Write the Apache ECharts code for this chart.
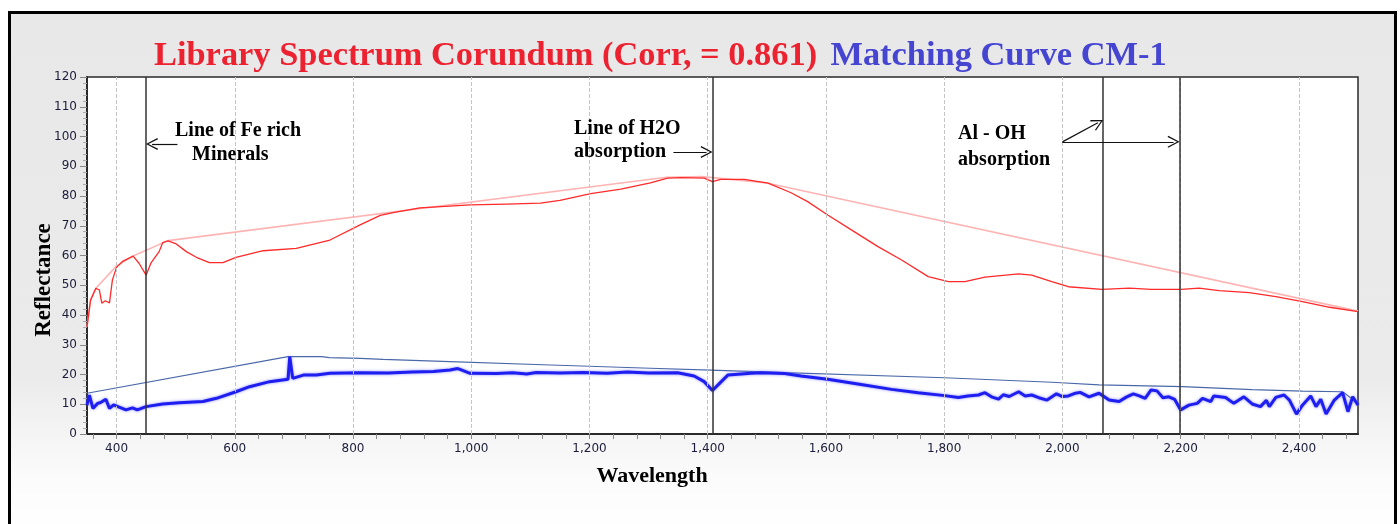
<!DOCTYPE html>
<html>
<head>
<meta charset="utf-8">
<title>Library Spectrum Corundum</title>
<script src="https://cdn.jsdelivr.net/npm/echarts@6/dist/echarts.min.js"></script>
</head>
<body style="margin:0;background:#fff">
<div id="main" style="width:1400px;height:524px;"></div>
<script>
// library spectrum (red) and its hull
var redWave = [350,356,365,371,375,381,388,393,400,410,428,438,450,458,472,478,487,501,518,535,557,580,602,648,704,761,812,846,870,913,998,1060,1117,1150,1202,1253,1303,1332,1355,1394,1408,1422,1462,1502,1541,1569,1603,1643,1688,1728,1773,1807,1835,1869,1926,1948,1982,2010,2067,2113,2150,2201,2231,2265,2316,2361,2406,2452,2500];
var redRefl = [36,45,49,48.4,44,44.8,44.1,51.8,56,58,59.8,57.4,53.4,57.4,61.3,64.3,64.9,63.9,61.3,59.4,57.6,57.6,59.4,61.6,62.4,65.2,70.3,73.5,74.5,76,77,77.3,77.6,78.5,80.8,82.3,84.4,86,86.2,86,84.8,85.6,85.6,84.3,81.1,78.1,73.6,68.6,63,58.5,52.9,51.2,51.2,52.7,53.8,53.4,51.2,49.5,48.6,49,48.6,48.6,49,48.2,47.5,46.2,44.5,42.6,41.1];
var redHullWave = [350,356,365,400,428,487,1330,1390,1500,2500];
var redHullRefl = [36,45,49,56.5,59.8,65,86.3,86.5,84.4,41.3];

// matching curve CM-1 (blue) and its hull
var blueWave = [350,354,360,368,373,382,388,395,400,416,427,435,450,478,506,546,569,602,625,659,690,693,698,716,738,761,812,860,900,936,964,977,981,998,1043,1070,1094,1110,1150,1190,1230,1264,1300,1349,1377,1394,1408,1420,1434,1473,1490,1530,1558,1603,1654,1711,1756,1801,1824,1840,1858,1869,1880,1892,1900,1910,1926,1937,1948,1960,1974,1990,2000,2010,2020,2030,2045,2062,2079,2096,2108,2120,2130,2140,2150,2160,2170,2180,2190,2200,2214,2228,2237,2251,2256,2276,2290,2307,2321,2335,2345,2350,2361,2375,2384,2396,2406,2420,2429,2437,2446,2460,2474,2483,2491,2500];
var blueRefl = [9.7,13.1,8.6,10.3,10.6,11.7,8.6,9.8,9.4,8.1,8.8,8.1,9.2,10.1,10.5,10.9,12,14.2,15.9,17.6,18.4,26,18.7,19.8,19.8,20.4,20.6,20.5,20.8,21,21.5,22,21.7,20.4,20.3,20.6,20.2,20.7,20.5,20.7,20.4,20.8,20.5,20.6,19.5,17.6,14.6,17,19.8,20.4,20.6,20.3,19.5,18.4,16.8,15,13.9,12.9,12.3,12.8,13.1,13.9,12.5,11.7,13.2,12.6,14.2,12.8,13.1,12.2,11.4,13.5,12.6,12.8,13.6,14,12.5,13.7,11.4,10.9,12.4,13.5,12.8,12,14.8,14.5,12.2,12.5,11.6,8.1,9.7,10.3,12,10.9,12.8,12.3,10.3,12.5,10.1,9.2,11.3,9.2,12.3,13.1,11.4,6.7,9.7,12.8,9.2,11.7,6.7,11.4,13.9,7.5,12.5,9.7];
var blueHullWave = [350,690,747,760,812,851,964,1134,1303,1405,1530,1801,1982,2062,2203,2321,2406,2474,2500];
var blueHullRefl = [13.7,26,26,25.7,25.4,25.1,24.3,23.2,22.1,21.5,20.6,18.9,17.4,16.5,15.9,14.9,14.4,14.2,10.3];

// axis labels and marker lines
var xLabels = [400,600,800,1000,1200,1400,1600,1800,2000,2200,2400];
var markerWaves = [450,1408,2068,2198];

function zip(a, b) {
    var out = [];
    for (var i = 0; i < a.length; i++) out.push([a[i], b[i]]);
    return out;
}

var minorX = [];
for (var t = 360; t <= 2480; t += 40) minorX.push(t);

var serif = 'bold 20px "Liberation Serif", serif';
var chevron = 'path://M5,0 L10,10 L9,10.6 L5,2.2 L1,10.6 L0,10 Z';

var chart = echarts.init(document.getElementById('main'));
var option = {
    animation: false,
    backgroundColor: '#ffffff',
    grid: {
        left: 87, top: 77, right: 42, bottom: 90,
        show: true, backgroundColor: '#ffffff', borderColor: '#2a2a2a', borderWidth: 1.5
    },
    xAxis: {
        type: 'value', min: 350, max: 2500,
        axisLine: { show: true, lineStyle: { color: '#2a2a2a', width: 2 } },
        axisTick: { show: true, customValues: minorX, length: 5, lineStyle: { color: '#888' } },
        axisLabel: {
            customValues: xLabels, margin: 9,
            fontFamily: '"DejaVu Sans", sans-serif', fontSize: 12, color: '#1c1c3a',
            formatter: function (v) { return v.toLocaleString('en-US'); }
        },
        splitLine: { show: false }
    },
    yAxis: {
        type: 'value', min: 0, max: 120, interval: 10,
        axisLine: { show: true, lineStyle: { color: '#2a2a2a', width: 2 } },
        axisTick: { show: true, length: 7, lineStyle: { color: '#888' } },
        minorTick: { show: true, splitNumber: 5, length: 4, lineStyle: { color: '#aaa' } },
        axisLabel: { margin: 10, fontFamily: '"DejaVu Sans", sans-serif', fontSize: 12, color: '#1c1c3a' },
        splitLine: { show: false }
    },
    series: [
        {
            name: 'grid', type: 'line', data: zip(redHullWave, redHullRefl),
            symbol: 'none', lineStyle: { width: 0, opacity: 0 }, z: 1, silent: true,
            markLine: {
                silent: true, symbol: 'none', label: { show: false },
                lineStyle: { color: '#c4c4c4', type: 'dashed', width: 1 },
                data: xLabels.map(function (v) { return { xAxis: v }; })
            }
        },
        {
            name: 'Red hull', type: 'line', data: zip(redHullWave, redHullRefl),
            symbol: 'none', lineStyle: { color: '#ffb4b4', width: 1.6 }, z: 2
        },
        {
            name: 'Library Spectrum Corundum', type: 'line', data: zip(redWave, redRefl),
            symbol: 'none', lineStyle: { color: '#ff2a2a', width: 1.3 }, z: 3
        },
        {
            name: 'Blue hull', type: 'line', data: zip(blueHullWave, blueHullRefl),
            symbol: 'none', lineStyle: { color: '#4a68a8', width: 1.2 }, z: 2
        },
        {
            name: 'Matching Curve CM-1', type: 'line', data: zip(blueWave, blueRefl),
            symbol: 'none', z: 3,
            lineStyle: { color: '#1e1ef0', width: 3, shadowColor: 'rgba(110,110,255,0.8)', shadowBlur: 3 }
        },
        {
            name: 'markers', type: 'line', data: [], z: 5, silent: true,
            markLine: {
                silent: true, symbol: 'none', label: { show: false },
                lineStyle: { color: '#333', type: 'solid', width: 1.5 },
                data: markerWaves.map(function (v) { return { xAxis: v }; })
            }
        },
        {
            name: 'arrows', type: 'line', data: [], z: 6, silent: true,
            markLine: {
                silent: true, symbol: ['none', chevron], symbolSize: [12, 12], label: { show: false },
                lineStyle: { color: '#111', type: 'solid', width: 1.2 },
                data: [
                    [{ coord: [503, 97.5] }, { coord: [460, 97.5] }],
                    [{ coord: [1342, 94.8] }, { coord: [1398, 94.8] }],
                    [{ coord: [2000, 98.2] }, { coord: [2060, 104.6] }],
                    [{ coord: [2000, 98.2] }, { coord: [2188, 98.2] }]
                ]
            }
        }
    ],
    graphic: [
        {
            type: 'rect', z: -10, silent: true,
            shape: { x: 9.5, y: 12.5, width: 1386, height: 520 },
            style: {
                stroke: '#000', lineWidth: 3,
                fill: new echarts.graphic.LinearGradient(0, 0, 0, 1, [
                    { offset: 0, color: '#e8e8e8' },
                    { offset: 0.7, color: '#ebebeb' },
                    { offset: 0.9, color: '#fcfcfc' },
                    { offset: 1, color: '#ffffff' }
                ])
            }
        },
        {
            type: 'text', x: 154, y: 56, z: 100,
            style: {
                text: '{r|Library Spectrum Corundum (Corr, = 0.861)} {b|Matching Curve CM-1}',
                textVerticalAlign: 'middle',
                rich: {
                    r: { font: 'bold 34.4px "Liberation Serif", serif', fill: '#ec2230' },
                    b: { font: 'bold 34.4px "Liberation Serif", serif', fill: '#4545d2', padding: [0, 0, 0, 10] }
                }
            }
        },
        {
            type: 'text', x: 44, y: 280, rotation: Math.PI / 2, z: 100,
            style: { text: 'Reflectance', font: 'bold 23px "Liberation Serif", serif', fill: '#000', textAlign: 'center', textVerticalAlign: 'middle' }
        },
        {
            type: 'text', x: 652, y: 476, z: 100,
            style: { text: 'Wavelength', font: 'bold 22px "Liberation Serif", serif', fill: '#000', textAlign: 'center', textVerticalAlign: 'middle' }
        },
        { type: 'text', x: 175, y: 131, z: 100, style: { text: 'Line of Fe rich', font: serif, fill: '#000', textVerticalAlign: 'middle' } },
        { type: 'text', x: 192, y: 155, z: 100, style: { text: 'Minerals', font: serif, fill: '#000', textVerticalAlign: 'middle' } },
        { type: 'text', x: 574, y: 129, z: 100, style: { text: 'Line of H2O', font: serif, fill: '#000', textVerticalAlign: 'middle' } },
        { type: 'text', x: 574, y: 152, z: 100, style: { text: 'absorption', font: serif, fill: '#000', textVerticalAlign: 'middle' } },
        { type: 'text', x: 958, y: 134, z: 100, style: { text: 'Al - OH', font: serif, fill: '#000', textVerticalAlign: 'middle' } },
        { type: 'text', x: 958, y: 160, z: 100, style: { text: 'absorption', font: serif, fill: '#000', textVerticalAlign: 'middle' } }
    ]
};
chart.setOption(option);
</script>
</body>
</html>
